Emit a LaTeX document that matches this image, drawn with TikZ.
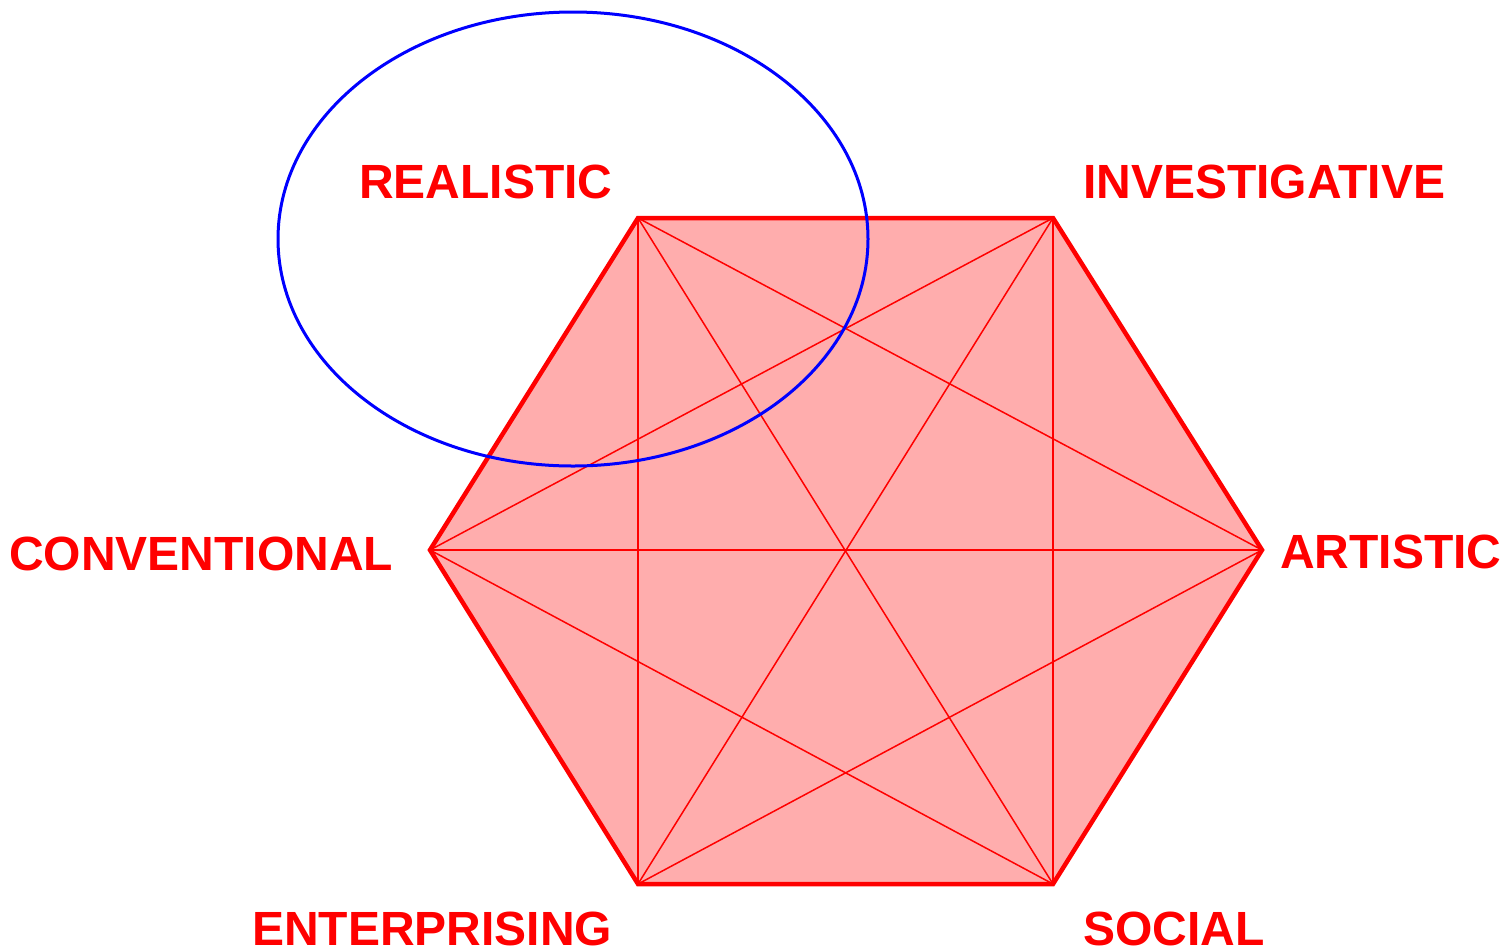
\documentclass[tikz,border=0pt]{standalone}
\usepackage{fontspec}
\setmainfont{Liberation Sans}
\usetikzlibrary{shapes.geometric}
\begin{document}
\begin{tikzpicture}[x=1pt,y=-1pt,
  lbl/.style={inner sep=0pt,anchor=base west,text=red,font=\fontsize{48}{50}\selectfont\bfseries},
  hexedge/.style={draw=red,line width=4.5pt,line join=miter},
  diag/.style={draw=red,line width=1.5pt},
  ring/.style={draw=blue,line width=3pt}]
\useasboundingbox (0,0) rectangle (1509,951);
\coordinate (R) at (638,218);
\coordinate (I) at (1053,218);
\coordinate (A) at (1262,550);
\coordinate (S) at (1053,884);
\coordinate (E) at (638,884);
\coordinate (C) at (430,550);
\fill[red!32] (R) -- (I) -- (A) -- (S) -- (E) -- (C) -- cycle;
\foreach \p/\q in {R/A,R/S,R/E,I/S,I/E,I/C,A/E,A/C,S/C}
  \draw[diag] (\p) -- (\q);
\draw[hexedge] (R) -- (I) -- (A) -- (S) -- (E) -- (C) -- cycle;
\node[ring,ellipse,minimum width=590pt,minimum height=454pt,inner sep=0pt] (ell) at (573,239) {};
\node[lbl] (lr) at (359,198) {REALISTIC};
\node[lbl] (li) at (1083,198) {INVESTIGATIVE};
\node[lbl] (lc) at (9,570) {CONVENTIONAL};
\node[lbl] (la) at (1280,568) {ARTISTIC};
\node[lbl] (le) at (252,945) {ENTERPRISING};
\node[lbl] (ls) at (1083,945) {SOCIAL};
\end{tikzpicture}
\end{document}
